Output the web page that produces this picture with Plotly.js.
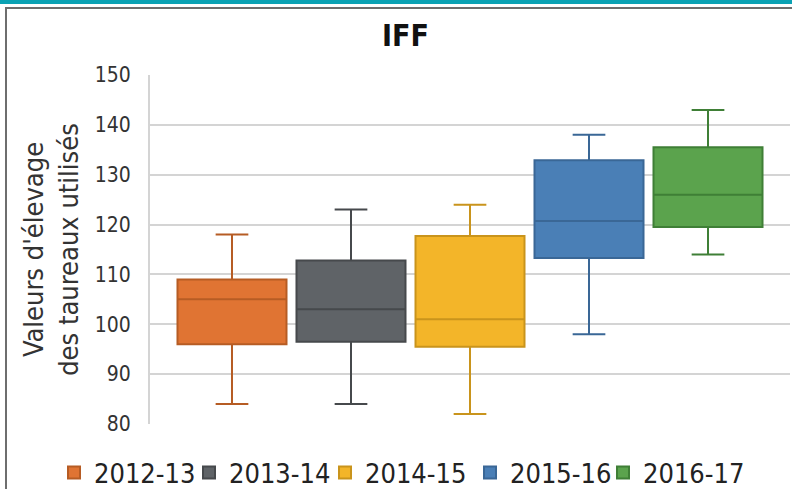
<!DOCTYPE html>
<html>
<head>
<meta charset="utf-8">
<script src="https://cdn.plot.ly/plotly-3.0.1.min.js"></script>
<style>
  html, body { margin: 0; padding: 0; background: #ffffff; }
  #wrap { position: relative; width: 792px; height: 489px; overflow: hidden; background: #fff; }
  #topbar { position: absolute; left: 0; top: 0; width: 792px; height: 4px; background: #0aa2b4; }
  #frameTop { position: absolute; left: 5px; top: 7px; width: 787px; height: 2px; background: #6e6e6e; }
  #frameLeft { position: absolute; left: 5px; top: 7px; width: 2px; height: 482px; background: #6e6e6e; }
  #chart { position: absolute; left: 0; top: 0; width: 792px; height: 489px; }
</style>
</head>
<body>
<div id="wrap">
  <div id="chart"></div>
  <div id="topbar"></div>
  <div id="frameTop"></div>
  <div id="frameLeft"></div>
</div>
<script>
// Data
const seasons     = ["2012-13", "2013-14", "2014-15", "2015-16", "2016-17"];
const positions   = [0, 1, 2, 3, 4];
const minValues   = [84, 84, 82, 98, 114];
const q1Values    = [96, 96.5, 95.5, 113.3, 119.5];
const medianVals  = [105, 103, 101, 120.7, 126];
const q3Values    = [109, 112.8, 117.7, 132.9, 135.5];
const maxValues   = [118, 123, 124, 138, 143];
const fillColors  = ["#e07433", "#5f6367", "#f3b529", "#4a7fb6", "#5ba34d"];
const lineColors  = ["#b65c24", "#46494c", "#c9941c", "#3a6796", "#3f7f36"];
const yTicks      = [80, 90, 100, 110, 120, 130, 140, 150];

const FONT = '"DejaVu Sans Condensed", "Liberation Sans Narrow", "Liberation Sans", sans-serif';

// one legend per season so the entries sit at the reference spacing
const legendIds  = ['legend', 'legend2', 'legend3', 'legend4', 'legend5'];
const legendLeft = [54, 189, 325, 470, 603];

const traces = seasons.map((s, i) => ({
  type: 'box',
  name: s,
  legend: legendIds[i],
  x: [positions[i]],
  q1: [q1Values[i]],
  median: [medianVals[i]],
  q3: [q3Values[i]],
  lowerfence: [minValues[i]],
  upperfence: [maxValues[i]],
  width: 0.916,
  whiskerwidth: 0.3,
  fillcolor: fillColors[i],
  line: { color: lineColors[i], width: 2 },
  hoverinfo: 'skip'
}));

const layout = {
  width: 792,
  height: 489,
  paper_bgcolor: 'rgba(0,0,0,0)',
  plot_bgcolor: '#ffffff',
  margin: { l: 150, r: 2, t: 75, b: 65, autoexpand: false },
  boxmode: 'overlay',
  title: {
    text: '<b>IFF</b>',
    font: { family: FONT, size: 30, color: '#111111' },
    x: 0.512, xref: 'container', xanchor: 'center',
    y: 1 - 35 / 489, yref: 'container', yanchor: 'middle'
  },
  xaxis: {
    range: [-0.689, 4.689],
    showticklabels: false,
    showgrid: false,
    zeroline: false,
    ticks: '',
    fixedrange: true
  },
  yaxis: {
    range: [80, 150],
    tickvals: yTicks,
    ticktext: yTicks.map(String),
    showgrid: true,
    gridcolor: '#d4d4d4',
    gridwidth: 2,
    zeroline: false,
    showline: true,
    linecolor: '#d4d4d4',
    linewidth: 2,
    ticks: '',
    ticklabelstandoff: 13,
    tickfont: { family: FONT, size: 21, color: '#333333' },
    title: {
      text: "Valeurs d'élevage<br>des taureaux utilisés",
      font: { family: FONT, size: 27, color: '#333333' },
      standoff: 8
    },
    fixedrange: true
  },
  showlegend: true
};

legendIds.forEach((id, i) => {
  layout[id] = {
    orientation: 'h',
    xref: 'container', yref: 'container',
    x: legendLeft[i] / 792, xanchor: 'left',
    y: 1 - 473 / 489, yanchor: 'middle',
    font: { family: FONT, size: 27, color: '#222222' },
    bgcolor: 'rgba(0,0,0,0)',
    itemwidth: 30,
    itemclick: false,
    itemdoubleclick: false
  };
});

Plotly.newPlot('chart', traces, layout, { displayModeBar: false, staticPlot: true });
</script>
</body>
</html>
